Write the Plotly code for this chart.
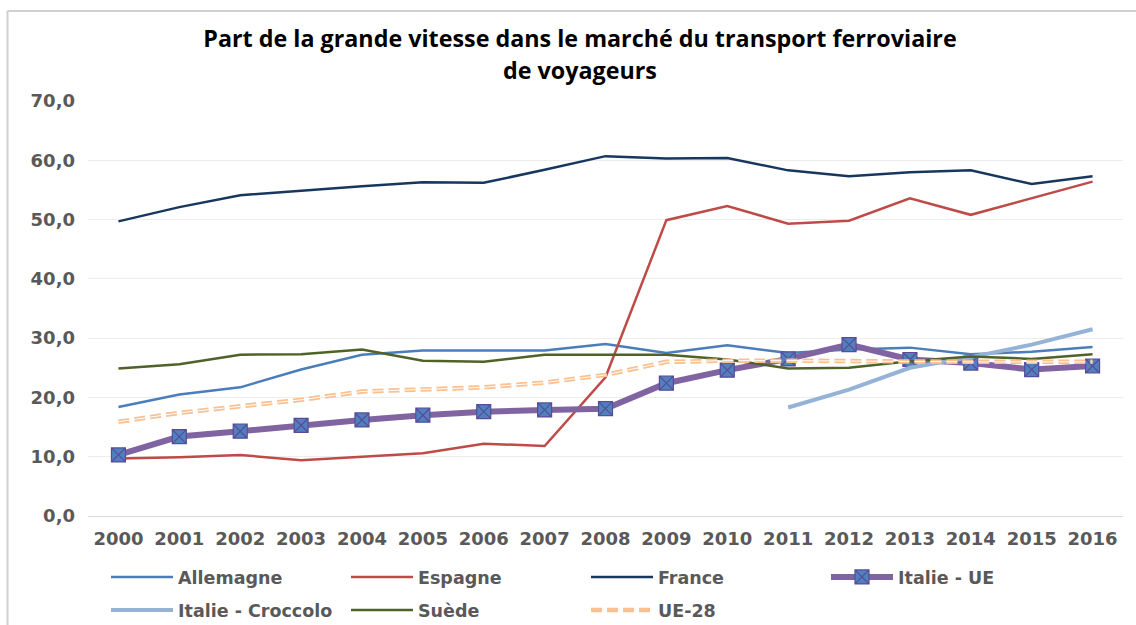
import plotly.graph_objects as go

years = list(range(2000, 2017))

allemagne = [18.4, 20.5, 21.7, 24.7, 27.2, 27.9, 27.9, 27.9, 29.0, 27.5, 28.8, 27.5, 28.1, 28.4, 27.3, 27.7, 28.5]
espagne = [9.7, 9.9, 10.3, 9.4, 10.0, 10.6, 12.2, 11.8, 23.4, 49.9, 52.3, 49.3, 49.8, 53.6, 50.8, 53.6, 56.4]
france = [49.7, 52.1, 54.1, 54.9, 55.6, 56.3, 56.2, 58.4, 60.7, 60.3, 60.4, 58.3, 57.3, 58.0, 58.3, 56.0, 57.3]
italie_ue = [10.3, 13.4, 14.3, 15.3, 16.2, 17.0, 17.6, 17.9, 18.1, 22.4, 24.6, 26.5, 28.9, 26.4, 25.8, 24.7, 25.3]
italie_croccolo = [None] * 11 + [18.3, 21.3, 25.0, 26.8, 28.9, 31.5]
suede = [24.9, 25.6, 27.2, 27.3, 28.1, 26.2, 26.0, 27.2, 27.2, 27.2, 26.4, 24.9, 25.0, 26.1, 26.9, 26.5, 27.3]
ue28 = [15.9, 17.4, 18.5, 19.6, 21.0, 21.4, 21.7, 22.5, 23.8, 26.0, 26.2, 26.2, 26.1, 26.1, 26.0, 26.0, 26.0]

y_ticks = [0, 10, 20, 30, 40, 50, 60, 70]

title_line1 = "Part de la grande vitesse dans le marché du transport ferroviaire"
title_line2 = "de voyageurs"

W, H = 1136, 625
ML, MR, MT, MB = 88, 13, 101, 109
PW, PH = W - ML - MR, H - MT - MB

fig = go.Figure()

fig.add_trace(go.Scatter(x=years, y=allemagne, name="Allemagne", mode="lines",
                         legend="legend", line=dict(color="#4A7EBB", width=2.5)))
fig.add_trace(go.Scatter(x=years, y=espagne, name="Espagne", mode="lines",
                         legend="legend", line=dict(color="#BE4B48", width=2.5)))
fig.add_trace(go.Scatter(x=years, y=france, name="France", mode="lines",
                         legend="legend", line=dict(color="#17375E", width=2.5)))
fig.add_trace(go.Scatter(x=years, y=italie_ue, name="Italie - UE", mode="lines+markers",
                         legend="legend",
                         line=dict(color="#8064A2", width=6),
                         marker=dict(symbol="square-x", size=14, color="#4F81BD",
                                     line=dict(color="#5A4A9A", width=1.2))))
fig.add_trace(go.Scatter(x=years, y=italie_croccolo, name="Italie - Croccolo", mode="lines",
                         legend="legend2", line=dict(color="#95B3D7", width=4)))
fig.add_trace(go.Scatter(x=years, y=suede, name="Suède", mode="lines",
                         legend="legend2", line=dict(color="#4F6228", width=2.5)))
fig.add_trace(go.Scatter(x=years, y=ue28, name="UE-28", mode="lines",
                         legend="legend2",
                         line=dict(color="#FAC090", width=4.5, dash="11px,5px")))
fig.add_trace(go.Scatter(x=years, y=ue28, name="UE-28", mode="lines", showlegend=False,
                         hoverinfo="skip",
                         line=dict(color="white", width=1, dash="11px,5px")))

tick_font = dict(family="DejaVu Sans", size=18, color="#595959", weight=700)
legend_font = dict(family="DejaVu Sans", size=17.5, color="#595959", weight=700)
title_font = dict(family="Open Sans", size=23.3, color="#000000", weight=700)

legend_common = dict(orientation="h", xref="container", yref="container",
                     x=106 / W, xanchor="left", yanchor="middle",
                     font=legend_font, entrywidth=163, entrywidthmode="pixels",
                     itemwidth=62, bgcolor="rgba(0,0,0,0)")

fig.update_layout(
    width=W, height=H,
    margin=dict(l=ML, r=MR, t=MT, b=MB, autoexpand=False),
    paper_bgcolor="white", plot_bgcolor="white",
    separators=", ",
    title=dict(text=title_line1, x=580 / W, xref="container", xanchor="center",
               y=1 - 39 / H, yref="container", yanchor="middle", font=title_font),
    annotations=[
        dict(text=title_line2, x=(580 - ML) / PW, xref="x domain",
             y=1 + (MT - 69.5) / PH, yref="y domain", showarrow=False,
             xanchor="center", yanchor="middle", font=title_font)
    ],
    xaxis=dict(range=[1999.5, 2016.5], tickmode="array", tickvals=years,
               ticktext=[str(y) for y in years], showgrid=False, zeroline=False,
               showline=True, linecolor="#D9D9D9", linewidth=1, ticks="",
               tickfont=tick_font, ticklabelstandoff=6),
    yaxis=dict(range=[0, 70], tickvals=y_ticks, tickformat=".1f", showgrid=True,
               gridcolor="#EDEDED", gridwidth=1, zeroline=False, showline=False,
               ticks="", tickfont=tick_font, ticklabelstandoff=12),
    legend=dict(legend_common, y=1 - 577 / H),
    legend2=dict(legend_common, y=1 - 610 / H),
    shapes=[
        dict(type="line", xref="paper", yref="paper",
             x0=(7.5 - ML) / PW, x1=(W + 20 - ML) / PW,
             y0=1 + (MT - 11) / PH, y1=1 + (MT - 11) / PH,
             line=dict(color="#D0D0D0", width=2)),
        dict(type="line", xref="paper", yref="paper",
             x0=(7.5 - ML) / PW, x1=(7.5 - ML) / PW,
             y0=1 + (MT - 11) / PH, y1=-(MB + 20) / PH,
             line=dict(color="#D0D0D0", width=2)),
    ],
)

fig.write_html("out.html", config={"displayModeBar": False},
               post_script="document.body.style.margin='0px';document.body.style.overflow='hidden';")
